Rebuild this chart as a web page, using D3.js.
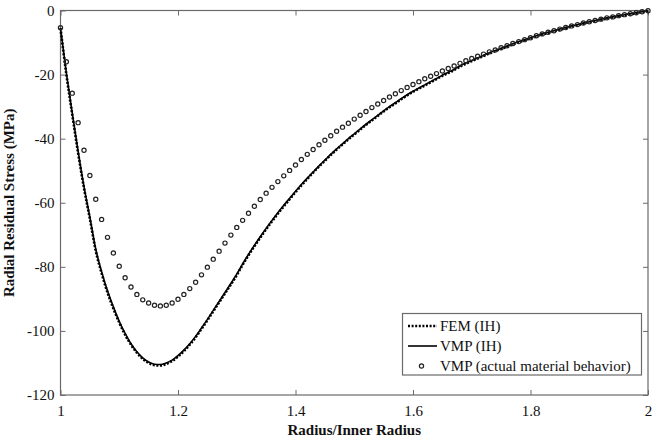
<!DOCTYPE html>
<html>
<head>
<meta charset="utf-8">
<script src="https://cdn.jsdelivr.net/npm/d3@7/dist/d3.min.js"></script>
<style>
  html, body { margin: 0; padding: 0; background: #fff; }
  svg { display: block; }
  text { font-family: "Liberation Serif", "Times New Roman", serif; fill: #111; }
</style>
</head>
<body>
<svg id="chart" width="653" height="441"></svg>
<script>
// Radius ratio r / r_inner, sampled every 0.01 from 1.00 to 2.00
const radius = d3.range(0, 101).map(i => +(1 + i / 100).toFixed(2));

// Radial residual stress (MPa), FEM with idealised hardening
const femIH = [
  -5.5, -20.0, -32.5, -44.5, -55.5, -65.0, -75.0, -82.0, -88.0, -93.0,
  -97.4, -101.2, -104.3, -106.8, -108.7, -110.0, -110.7, -110.8, -110.3, -109.4,
  -108.0, -106.3, -104.3, -102.0, -99.4, -96.7, -93.9, -91.1, -88.3, -85.5,
  -82.6, -79.4, -76.4, -73.6, -70.9, -68.3, -65.8, -63.4, -61.1, -58.9,
  -56.7, -54.6, -52.6, -50.6, -48.7, -46.9, -45.1, -43.4, -41.8, -40.2,
  -38.7, -37.2, -35.7, -34.3, -32.9, -31.5, -30.2, -29.0, -27.7, -26.5,
  -25.4, -24.4, -23.4, -22.4, -21.4, -20.4, -19.5, -18.6, -17.5, -16.6,
  -15.8, -15.0, -14.2, -13.4, -12.7, -12.0, -11.3, -10.6, -9.9, -9.3,
  -8.7, -8.1, -7.5, -7.0, -6.5, -6.0, -5.5, -5.0, -4.6, -4.1,
  -3.7, -3.3, -2.9, -2.5, -2.2, -1.8, -1.5, -1.2, -0.9, -0.5, -0.2
];

// Radial residual stress (MPa), VMP with idealised hardening
const vmpIH = [
  -5.5, -19.5, -32.0, -44.0, -55.0, -64.5, -74.5, -81.5, -87.5, -92.5,
  -97.0, -100.8, -104.0, -106.5, -108.4, -109.7, -110.4, -110.5, -110.0, -109.1,
  -107.7, -106.0, -104.0, -101.7, -99.1, -96.4, -93.6, -90.8, -88.0, -85.2,
  -82.3, -79.1, -76.1, -73.3, -70.6, -68.0, -65.5, -63.1, -60.8, -58.6,
  -56.4, -54.3, -52.3, -50.4, -48.5, -46.7, -44.9, -43.2, -41.6, -40.0,
  -38.5, -37.0, -35.5, -34.1, -32.7, -31.3, -30.0, -28.8, -27.5, -26.3,
  -25.2, -24.2, -23.2, -22.2, -21.2, -20.2, -19.3, -18.4, -17.3, -16.4,
  -15.6, -14.8, -14.0, -13.2, -12.5, -11.8, -11.1, -10.4, -9.7, -9.1,
  -8.5, -7.9, -7.3, -6.8, -6.3, -5.8, -5.3, -4.8, -4.4, -3.9,
  -3.5, -3.1, -2.7, -2.3, -2.0, -1.6, -1.3, -1.0, -0.7, -0.4, -0.1
];

// Radial residual stress (MPa), VMP with the actual material behaviour
const vmpActual = [
  -5.4, -16.0, -25.8, -35.0, -43.6, -51.5, -58.9, -65.2, -70.8, -75.7,
  -79.8, -83.4, -86.3, -88.6, -90.3, -91.3, -92.0, -92.2, -92.0, -91.3,
  -90.1, -88.6, -86.8, -84.8, -82.5, -80.1, -77.6, -75.1, -72.6, -70.1,
  -67.7, -65.5, -63.3, -61.1, -59.0, -57.0, -55.2, -53.4, -51.6, -49.9,
  -48.2, -46.5, -44.9, -43.4, -41.9, -40.5, -39.1, -37.7, -36.4, -35.2,
  -33.9, -32.7, -31.5, -30.3, -29.2, -28.1, -27.0, -26.0, -25.0, -24.0,
  -23.1, -22.2, -21.3, -20.5, -19.7, -18.9, -18.1, -17.3, -16.5, -15.7,
  -15.0, -14.3, -13.6, -12.9, -12.3, -11.6, -11.0, -10.3, -9.7, -9.1,
  -8.5, -7.9, -7.3, -6.8, -6.3, -5.8, -5.3, -4.8, -4.4, -3.9,
  -3.5, -3.1, -2.7, -2.3, -2.0, -1.6, -1.3, -1.0, -0.7, -0.4, -0.1
];

const xTicks = [1, 1.2, 1.4, 1.6, 1.8, 2];
const xTickLabels = ["1", "1.2", "1.4", "1.6", "1.8", "2"];
const yTicks = [0, -20, -40, -60, -80, -100, -120];
const yTickLabels = ["0", "-20", "-40", "-60", "-80", "-100", "-120"];

const legendLabels = ["FEM (IH)", "VMP (IH)", "VMP (actual material behavior)"];
const xTitle = "Radius/Inner Radius";
const yTitle = "Radial Residual Stress (MPa)";

const plot = { left: 60.5, right: 648, top: 10.5, bottom: 395 };
const svg = d3.select("#chart");
const frameColor = "#6a6a6a";

const x = d3.scaleLinear().domain([1, 2]).range([plot.left, plot.right]);
const y = d3.scaleLinear().domain([-120, 0]).range([plot.bottom, plot.top]);

// inward-pointing ticks on all four sides
function styleAxis(g) {
  g.select(".domain").remove();
  g.selectAll(".tick line").attr("stroke", frameColor).attr("stroke-width", 1);
  g.selectAll(".tick text").attr("font-size", 15).attr("fill", "#111")
    .attr("font-family", "Liberation Serif, Times New Roman, serif");
}

svg.append("g").attr("transform", `translate(0,${plot.bottom})`)
  .call(d3.axisBottom(x).tickValues(xTicks).tickSize(-5).tickPadding(10)
    .tickFormat((d, i) => xTickLabels[i]))
  .call(styleAxis);
svg.append("g").attr("transform", `translate(0,${plot.top})`)
  .call(d3.axisTop(x).tickValues(xTicks).tickSize(-5).tickFormat(""))
  .call(styleAxis);
svg.append("g").attr("transform", `translate(${plot.left},0)`)
  .call(d3.axisLeft(y).tickValues(yTicks).tickSize(-5).tickPadding(6)
    .tickFormat((d, i) => yTickLabels[i]))
  .call(styleAxis);
svg.append("g").attr("transform", `translate(${plot.right},0)`)
  .call(d3.axisRight(y).tickValues(yTicks).tickSize(-5).tickFormat(""))
  .call(styleAxis);

svg.append("rect")
  .attr("x", plot.left).attr("y", plot.top)
  .attr("width", plot.right - plot.left).attr("height", plot.bottom - plot.top)
  .attr("fill", "none").attr("stroke", frameColor).attr("stroke-width", 1.2);

// curves
const line = d3.line().x((d, i) => x(radius[i])).y(d => y(d)).curve(d3.curveMonotoneX);
const marks = svg.append("g");

marks.append("path").datum(femIH)
  .attr("d", line).attr("fill", "none")
  .attr("stroke", "#000").attr("stroke-width", 2.6)
  .attr("stroke-dasharray", "2,1.6");

marks.append("path").datum(vmpIH)
  .attr("d", line).attr("fill", "none")
  .attr("stroke", "#000").attr("stroke-width", 1.6);

marks.append("g").selectAll("circle").data(vmpActual).join("circle")
  .attr("cx", (d, i) => x(radius[i])).attr("cy", d => y(d))
  .attr("r", 2.1).attr("fill", "none")
  .attr("stroke", "#222").attr("stroke-width", 1.2);

// axis titles
svg.append("text")
  .attr("x", (plot.left + plot.right) / 2).attr("y", 435)
  .attr("text-anchor", "middle").attr("font-size", 15).attr("font-weight", "bold")
  .text(xTitle);
svg.append("text")
  .attr("transform", `translate(14,${(plot.top + plot.bottom) / 2}) rotate(-90)`)
  .attr("text-anchor", "middle").attr("font-size", 15).attr("font-weight", "bold")
  .text(yTitle);

// legend
const lg = svg.append("g");
lg.append("rect")
  .attr("x", 402.5).attr("y", 313.5).attr("width", 239).attr("height", 61.5)
  .attr("fill", "#fff").attr("stroke", frameColor).attr("stroke-width", 1.2);

const rowY = [326, 346, 366];
lg.append("line").attr("x1", 408).attr("x2", 437).attr("y1", rowY[0]).attr("y2", rowY[0])
  .attr("stroke", "#000").attr("stroke-width", 2.6).attr("stroke-dasharray", "2,1.6");
lg.append("line").attr("x1", 408).attr("x2", 437).attr("y1", rowY[1]).attr("y2", rowY[1])
  .attr("stroke", "#000").attr("stroke-width", 1.6);
lg.append("circle").attr("cx", 421.5).attr("cy", rowY[2]).attr("r", 2.1)
  .attr("fill", "none").attr("stroke", "#222").attr("stroke-width", 1.2);

lg.selectAll("text.lbl").data(legendLabels).join("text")
  .attr("class", "lbl")
  .attr("x", 440).attr("y", (d, i) => rowY[i] + 5)
  .attr("font-size", 15)
  .text(d => d);
</script>
</body>
</html>
